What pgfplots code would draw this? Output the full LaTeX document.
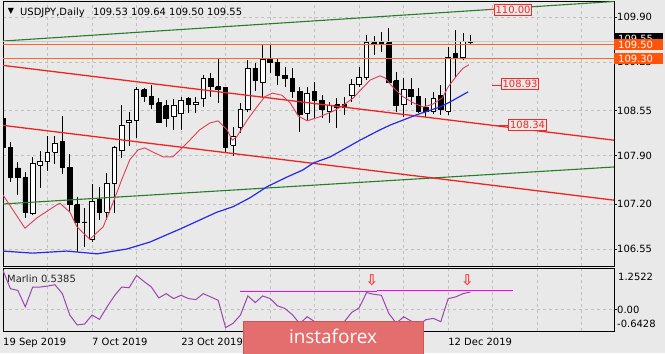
\documentclass[border=0pt]{standalone}
\usepackage{fontspec}
\setmainfont{DejaVu Sans}
\newfontfamily\logofont{Open Sans}
\usepackage{pgfplots}
\usepackage{pgfplotstable}
\pgfplotsset{compat=1.18}

\definecolor{bgc}{RGB}{233,233,233}
\definecolor{gridc}{RGB}{192,192,192}
\definecolor{greenl}{RGB}{40,125,40}
\definecolor{redl}{RGB}{240,35,35}
\definecolor{orl}{RGB}{255,100,40}
\definecolor{orbox}{RGB}{255,85,10}
\definecolor{maR}{RGB}{225,60,90}
\definecolor{maB}{RGB}{40,40,235}
\definecolor{marlinc}{RGB}{155,70,175}
\definecolor{magl}{RGB}{255,0,255}
\definecolor{arrowc}{RGB}{255,60,60}
\definecolor{logoc}{RGB}{228,110,110}
\definecolor{logob}{RGB}{205,85,85}
\definecolor{annr}{RGB}{245,40,40}
\definecolor{bidl}{RGB}{200,200,200}

\newcommand\sz{\fontsize{10}{12}\selectfont}
\newcommand\arr{\textcolor{arrowc}{\bfseries\fontsize{15}{15}\selectfont ⇩}}

\pgfplotstableread{
i o h l c
0 108.44 108.49 107.81 108.02
1 108.01 108.10 107.52 107.58
2 107.72 107.81 107.33 107.58
3 107.58 107.66 107.00 107.08
4 107.06 107.88 107.04 107.78
5 107.76 107.97 107.43 107.82
6 107.82 108.18 107.68 107.94
7 107.95 108.18 107.78 108.08
8 108.10 108.47 107.63 107.73
9 107.73 107.92 107.08 107.19
10 107.19 107.30 106.51 106.93
11 106.94 107.14 106.58 106.93
12 106.69 107.49 106.65 107.24
13 107.26 107.45 106.97 107.08
14 107.08 107.65 106.97 107.49
15 107.49 108.04 107.07 108.01
16 107.98 108.63 107.86 108.34
17 108.37 108.53 108.04 108.40
18 108.40 108.89 108.15 108.86
19 108.85 108.88 108.67 108.75
20 108.75 108.92 108.57 108.64
21 108.66 108.73 108.37 108.38
22 108.62 108.70 108.31 108.44
23 108.47 108.72 108.27 108.62
24 108.50 108.75 108.27 108.70
25 108.72 108.75 108.51 108.64
26 108.63 108.75 108.51 108.67
27 108.73 109.06 108.60 109.01
28 109.01 109.09 108.75 108.89
29 108.89 109.31 108.66 108.86
30 108.88 108.89 107.94 108.02
31 108.05 108.31 107.89 108.18
32 108.31 108.66 108.23 108.57
33 108.56 109.28 108.53 109.16
34 109.16 109.24 108.83 108.98
35 108.96 109.50 108.75 109.29
36 109.29 109.50 109.09 109.25
37 109.24 109.31 108.92 109.06
38 109.06 109.18 108.89 109.01
39 109.01 109.16 108.73 108.83
40 108.83 108.89 108.24 108.49
41 108.51 108.89 108.41 108.80
42 108.83 108.96 108.44 108.70
43 108.70 108.77 108.44 108.56
44 108.54 108.67 108.37 108.62
45 108.63 108.73 108.30 108.60
46 108.63 108.75 108.49 108.60
47 108.76 109.01 108.67 108.92
48 108.92 109.18 108.89 109.03
49 109.03 109.64 108.99 109.53
50 109.53 109.63 109.35 109.51
51 109.53 109.68 109.40 109.50
52 109.53 109.74 108.95 108.96
53 108.98 109.11 108.53 108.62
54 108.63 109.02 108.46 108.85
55 108.86 109.02 108.63 108.75
56 108.75 108.88 108.51 108.54
57 108.60 108.73 108.46 108.53
58 108.54 108.82 108.50 108.72
59 108.77 108.92 108.49 108.56
60 108.54 109.47 108.49 109.31
61 109.37 109.71 109.03 109.32
62 109.31 109.67 109.28 109.54
63 109.53 109.64 109.50 109.55
}\candles

\begin{document}
\begin{tikzpicture}[x=1bp,y=1bp,font=\sz]
\fill[bgc] (0,0) rectangle (665,353);

% ---------------- main price panel ----------------
\begin{axis}[
  at={(3bp,87bp)}, anchor=south west, scale only axis,
  width=611bp, height=264bp,
  xmin=0, xmax=82.35, ymin=106.3043, ymax=110.1166,
  axis line style={line width=1bp, black},
  xtick={6,12,...,78}, xticklabels={}, xtick pos=bottom,
  xtick style={draw=none},
  ytick={106.55,107.20,107.90,108.55,109.25,109.90},
  yticklabels={106.55,107.20,107.90,108.55,109.25,109.90},
  ytick pos=right, yticklabel pos=right,
  tick align=outside, major tick length=3bp,
  ytick style={black, line width=0.8bp},
  yticklabel style={anchor=west, inner sep=0pt, font=\sz},
  grid=major,
  major grid style={gridc, dash pattern=on 3bp off 3bp, line width=0.7bp},
  clip mode=individual,
]
\pgfplotsforeachungrouped \cidx in {0,...,63}{%
  \pgfplotstablegetelem{\cidx}{i}\of\candles \let\ci\pgfplotsretval
  \pgfplotstablegetelem{\cidx}{o}\of\candles \let\co\pgfplotsretval
  \pgfplotstablegetelem{\cidx}{h}\of\candles \let\ch\pgfplotsretval
  \pgfplotstablegetelem{\cidx}{l}\of\candles \let\cl\pgfplotsretval
  \pgfplotstablegetelem{\cidx}{c}\of\candles \let\cc\pgfplotsretval
  \pgfmathsetmacro\xa{\ci-0.31}%
  \pgfmathsetmacro\xb{\ci+0.31}%
  \pgfmathsetmacro\cbear{\cc<\co ? 1 : 0}%
  \ifdim\cbear pt>0.5pt \def\cfill{black}\else\def\cfill{white}\fi
  \edef\candleplot{%
    \noexpand\addplot[black, line width=0.9bp] coordinates {(\ci,\cl) (\ci,\ch)};
    \noexpand\addplot[draw=black, line width=0.9bp, fill=\cfill]
      coordinates {(\xa,\co) (\xb,\co) (\xb,\cc) (\xa,\cc) (\xa,\co)};}%
  \candleplot
}
% trend lines
\addplot[greenl, line width=1.1bp] coordinates {(0,109.553) (82.35,110.124)};
\addplot[greenl, line width=1.1bp] coordinates {(0,107.200) (82.35,107.734)};
\addplot[redl, line width=1.3bp] coordinates {(0,109.201) (82.35,108.121)};
\addplot[redl, line width=1.3bp] coordinates {(0,108.335) (82.35,107.255)};
% horizontal levels
\addplot[bidl, line width=0.8bp] coordinates {(0,109.55) (82.35,109.55)};
\addplot[orl, line width=1.3bp] coordinates {(0,109.50) (82.35,109.50)};
\addplot[orl, line width=1.3bp] coordinates {(0,109.30) (82.35,109.30)};
% moving averages
\addplot[maR, line width=0.9bp] coordinates {
(0,107.33) (2.96,106.85) (4.58,107.00) (7.28,107.19) (7.68,107.21) (9.03,107.08)
(9.97,106.87) (11.7,106.69) (13.5,106.87) (14.8,107.21) (16.0,107.55) (17.1,107.84)
(18.2,107.98) (19.1,108.01) (20.2,107.95) (21.6,107.88) (22.9,107.88) (24.8,108.08)
(26.5,108.27) (27.9,108.37) (29.0,108.40) (30.2,108.27) (30.9,108.12) (31.5,108.17)
(32.9,108.41) (34.2,108.60) (35.3,108.75) (36.3,108.80) (37.6,108.77) (38.7,108.66)
(39.8,108.47) (41.0,108.40) (42.7,108.46) (44.5,108.54) (45.8,108.62) (47.2,108.73)
(48.5,108.88) (49.5,108.99) (50.8,109.05) (51.5,109.02) (52.6,108.88) (53.9,108.75)
(55.3,108.66) (56.6,108.60) (57.9,108.64) (59.2,108.73) (60.0,108.89) (61.2,109.06)
(62.0,109.16) (62.8,109.21)};
\addplot[maB, line width=1.2bp] coordinates {
(0,106.52) (4.0,106.49) (8.6,106.52) (12.7,106.48) (16.7,106.55) (19.8,106.65)
(23.9,106.84) (28.8,107.08) (31.0,107.16) (33.3,107.29) (35.6,107.45) (38.3,107.59)
(40.4,107.69) (41.8,107.79) (44.1,107.88) (48.1,108.12) (50.8,108.27) (52.2,108.34)
(55.8,108.49) (58.9,108.60) (60.2,108.67) (62.7,108.82)};
\end{axis}

% ---------------- Marlin panel ----------------
\begin{axis}[
  at={(3bp,22bp)}, anchor=south west, scale only axis,
  width=611bp, height=62.5bp,
  xmin=0, xmax=82.35, ymin=-0.6428, ymax=1.2522,
  axis line style={line width=1bp, black},
  xtick={6,12,...,78}, xticklabels={}, xtick pos=bottom,
  xtick style={draw=none},
  extra x ticks={0,12,24,60},
  extra x tick labels={19 Sep 2019,7 Oct 2019,23 Oct 2019,12 Dec 2019},
  extra x tick style={grid=none, major tick length=4bp,
    tick style={draw=black, line width=0.8bp},
    tick label style={anchor=north west, inner sep=0pt, font=\sz, yshift=-2.5bp}},
  ytick={0}, yticklabels={0.00},
  ytick pos=right, yticklabel pos=right,
  tick align=outside, major tick length=3bp,
  ytick style={black, line width=0.8bp},
  yticklabel style={anchor=west, inner sep=0pt, font=\sz},
  grid=major,
  major grid style={gridc, dash pattern=on 3bp off 3bp, line width=0.7bp},
  clip mode=individual,
]
\addplot[magl, line width=1bp] coordinates {(31.9,0.55) (50.4,0.55)};
\addplot[magl, line width=1bp] coordinates {(50.4,0.58) (68.7,0.58)};
\addplot[marlinc, line width=1bp] coordinates {
(0,1.19) (1,0.64) (2,0.59) (3,0.09) (4,0.69) (5,0.69) (6,0.72) (7,0.76) (8,0.49)
(9,-0.16) (10,-0.46) (11,-0.43) (12,-0.16) (13,-0.29) (14,0.08) (15,0.42) (16,0.69)
(17,0.67) (18,1.04) (19,0.86) (20,0.69) (21,0.36) (22,0.49) (23,0.34) (24,0.44)
(25,0.34) (26,0.31) (27,0.49) (28,0.39) (29,0.29) (30,-0.54) (31,-0.41) (32,-0.16)
(33,0.42) (34,0.22) (35,0.42) (36,0.34) (37,0.12) (38,0.04) (39,-0.15) (40,-0.42)
(41,-0.21) (42,-0.36) (43,-0.45) (44,-0.42) (45,-0.45) (46,-0.36) (47,-0.08) (48,0.06)
(49,0.52) (50,0.47) (51,0.44) (52,-0.11) (53,-0.41) (54,-0.21) (55,-0.34) (56,-0.46)
(57,-0.30) (58,-0.26) (59,-0.36) (60,0.34) (61,0.39) (62,0.49) (63,0.54)};
\addplot[only marks, color=arrowc, mark=text, text mark={\arr}] coordinates {(49.7,0.90) (62.6,0.90)};
\end{axis}

% ---------------- texts and labels ----------------
\node[anchor=center, inner sep=0pt, font=\fontsize{8}{8}\selectfont] at (11,342) {▼};
\node[anchor=base west, inner sep=0pt] at (20,338) {USDJPY,Daily};
\node[anchor=base west, inner sep=0pt] at (93,338) {109.53 109.64 109.50 109.55};

\node[anchor=west, inner sep=0pt, text=black!85] at (7,74.5) {Marlin 0.5385};
\node[anchor=west, inner sep=0pt] at (618,76) {1.2522};
\node[anchor=west, inner sep=0pt] at (617,29) {-0.6428};

% right price boxes
\fill[black] (614,309) rectangle (663,320);
\node[anchor=west, inner sep=0pt, text=white] at (618,314.5) {109.55};
\fill[orbox] (614,303) rectangle (663,314);
\node[anchor=west, inner sep=0pt, text=white] at (618,308.5) {109.50};
\fill[orbox] (614,289) rectangle (663,300);
\node[anchor=west, inner sep=0pt, text=white] at (618,294.5) {109.30};

% annotations
\draw[annr, line width=1bp] (487,343) -- (494,343);
\node[draw=annr, fill=bgc, text=annr, inner sep=1.3bp, line width=0.9bp] at (513,343) {110.00};
\draw[annr, line width=1bp] (492,268) -- (502,268);
\node[draw=annr, fill=bgc, text=annr, inner sep=1.3bp, line width=0.9bp] at (520,269) {108.93};
\draw[annr, line width=1bp] (498,228) -- (510,228);
\node[draw=annr, fill=bgc, text=annr, inner sep=1.3bp, line width=0.9bp] at (527.5,228) {108.34};

% logo
\fill[logoc, draw=logob, line width=1bp] (243,-1) rectangle (423,32);
\node[text=white, font=\logofont\fontsize{19}{19}\selectfont] at (333,16.5) {instaforex};

\pgfresetboundingbox
\path[use as bounding box] (0,0) rectangle (665,353);
\end{tikzpicture}
\end{document}
